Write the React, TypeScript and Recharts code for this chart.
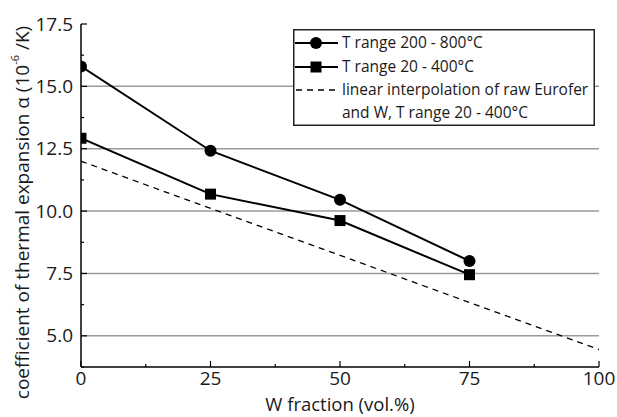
import React from "react";
import { LineChart, Line, XAxis, YAxis, ReferenceLine, Legend } from "recharts";

const X_TICKS = [0, 12.5, 25, 37.5, 50, 62.5, 75, 87.5, 100];
const X_MAJOR = [0, 25, 50, 75, 100];
const Y_TICKS = [3.75, 5, 6.25, 7.5, 8.75, 10, 11.25, 12.5, 13.75, 15, 16.25, 17.5];
const Y_MAJOR = [5, 7.5, 10, 12.5, 15, 17.5];
const GRID_Y = [5, 7.5, 10, 12.5, 15];

const W_FRACTION = [0, 25, 50, 75];
const HIGH_T = [15.8, 12.42, 10.45, 8.0];
const LOW_T = [12.92, 10.68, 9.62, 7.45];
const INTERP_X = [0, 100];
const INTERP_Y = [12.0, 4.45];

const SERIES_NAMES = [
  "T range 200 - 800°C",
  "T range 20 - 400°C",
  "linear interpolation of raw Eurofer",
  "and W, T range 20 - 400°C",
];

const highData = W_FRACTION.map((x, i) => ({ x, y: HIGH_T[i] }));
const lowData = W_FRACTION.map((x, i) => ({ x, y: LOW_T[i] }));
const interpData = INTERP_X.map((x, i) => ({ x, y: INTERP_Y[i] }));

const FONT = "'Open Sans', sans-serif";
const TEXT_COLOR = "#1a1a1a";
const TICK_FS = 19;

const BottomTick = (props: any) => {
  const { x, y, payload } = props;
  const major = X_MAJOR.includes(payload.value);
  return (
    <g>
      <line x1={x} x2={x} y1={y} y2={y - (major ? 6 : 3)} stroke="#000" strokeWidth={1.2} />
      {major && (
        <text x={x} y={y + 3} dy="0.8em" textAnchor="middle" fontFamily={FONT} fontSize={TICK_FS} fill={TEXT_COLOR}>
          {payload.value}
        </text>
      )}
    </g>
  );
};

const TopTick = (props: any) => {
  const { x, y, payload } = props;
  const major = X_MAJOR.includes(payload.value);
  return <line x1={x} x2={x} y1={y} y2={y + (major ? 6 : 3)} stroke="#000" strokeWidth={1.2} />;
};

const LeftTick = (props: any) => {
  const { x, y, payload } = props;
  const major = Y_MAJOR.includes(payload.value);
  return (
    <g>
      <line x1={x} x2={x + (major ? 6 : 3)} y1={y} y2={y} stroke="#000" strokeWidth={1.2} />
      {major && (
        <text x={x - 8} y={y} dy="0.35em" textAnchor="end" fontFamily={FONT} fontSize={TICK_FS} fill={TEXT_COLOR}>
          {payload.value.toFixed(1)}
        </text>
      )}
    </g>
  );
};

const RightTick = (props: any) => {
  const { x, y, payload } = props;
  const major = Y_MAJOR.includes(payload.value);
  return <line x1={x} x2={x - (major ? 6 : 3)} y1={y} y2={y} stroke="#000" strokeWidth={1.2} />;
};

const Circle = (props: any) => {
  const { cx, cy } = props;
  if (cx == null || cy == null) return null;
  return <circle cx={cx} cy={cy} r={6} fill="#000" />;
};

const Square = (props: any) => {
  const { cx, cy } = props;
  if (cx == null || cy == null) return null;
  return <rect x={cx - 5.5} y={cy - 5.5} width={11} height={11} fill="#000" />;
};

const YLabel = (props: any) => {
  const { viewBox } = props;
  const cx = 22;
  const cy = viewBox.y + viewBox.height / 2 + 17;
  return (
    <text
      x={cx}
      y={cy}
      transform={`rotate(-90 ${cx} ${cy})`}
      textAnchor="middle"
      dominantBaseline="central"
      fontFamily={FONT}
      fontSize={19}
      fill={TEXT_COLOR}
    >
      coefficient of thermal expansion α (10
      <tspan dy={-8} fontSize={11}>-6</tspan>
      <tspan dy={8}> /K)</tspan>
    </text>
  );
};

const XLabel = (props: any) => {
  const { viewBox } = props;
  return (
    <text
      x={viewBox.x + viewBox.width / 2}
      y={viewBox.y + 36}
      textAnchor="middle"
      dominantBaseline="central"
      fontFamily={FONT}
      fontSize={18.5}
      fill={TEXT_COLOR}
    >
      W fraction (vol.%)
    </text>
  );
};

const LegendBox = () => {
  const rows = [14, 38, 61, 84];
  return (
    <svg width={302} height={97} style={{ display: "block" }}>
      <rect x={0.75} y={0.75} width={300.5} height={95.5} fill="#fff" stroke="#222" strokeWidth={1.5} />
      <line x1={2} x2={45} y1={rows[0]} y2={rows[0]} stroke="#000" strokeWidth={2} />
      <circle cx={23} cy={rows[0]} r={6} fill="#000" />
      <line x1={2} x2={45} y1={rows[1]} y2={rows[1]} stroke="#000" strokeWidth={2} />
      <rect x={17.5} y={rows[1] - 5.5} width={11} height={11} fill="#000" />
      <line x1={3} x2={45} y1={rows[2]} y2={rows[2]} stroke="#000" strokeWidth={1.3} strokeDasharray="6 5" />
      {SERIES_NAMES.map((name, i) => (
        <text key={i} x={49} y={rows[i]} dy="0.35em" fontFamily={FONT} fontSize={15.5} fill={TEXT_COLOR}>
          {name}
        </text>
      ))}
    </svg>
  );
};

export default function App() {
  return (
    <div style={{ position: "absolute", left: 0, top: 0, background: "#fff" }}>
      <LineChart width={617} height={417} margin={{ top: 24, right: 18, bottom: 0, left: 21 }}>
        <XAxis
          type="number"
          dataKey="x"
          domain={[0, 100]}
          ticks={X_TICKS}
          interval={0}
          tickSize={0}
          tickMargin={0}
          tickLine={false}
          tick={<BottomTick />}
          axisLine={{ stroke: "#000", strokeWidth: 1.5 }}
          height={50}
          allowDataOverflow
          label={<XLabel />}
        />
        <XAxis
          xAxisId="top"
          orientation="top"
          type="number"
          dataKey="x"
          domain={[0, 100]}
          ticks={X_TICKS}
          interval={0}
          tickSize={0}
          tickMargin={0}
          tickLine={false}
          tick={<TopTick />}
          axisLine={{ stroke: "#000", strokeWidth: 1.5 }}
          height={0}
          allowDataOverflow
        />
        <YAxis
          type="number"
          dataKey="y"
          domain={[3.75, 17.5]}
          ticks={Y_TICKS}
          interval={0}
          tickSize={0}
          tickMargin={0}
          tickLine={false}
          tick={<LeftTick />}
          axisLine={{ stroke: "#000", strokeWidth: 1.5 }}
          width={60}
          allowDataOverflow
          label={<YLabel />}
        />
        <YAxis
          yAxisId="right"
          orientation="right"
          type="number"
          dataKey="y"
          domain={[3.75, 17.5]}
          ticks={Y_TICKS}
          interval={0}
          tickSize={0}
          tickMargin={0}
          tickLine={false}
          tick={<RightTick />}
          axisLine={{ stroke: "#000", strokeWidth: 1.5 }}
          width={0}
          allowDataOverflow
        />
        {GRID_Y.map((v) => (
          <ReferenceLine key={v} y={v} stroke="#9a9a9a" strokeWidth={1.5} />
        ))}
        <Line
          data={interpData}
          dataKey="y"
          stroke="#000"
          strokeWidth={1.3}
          strokeDasharray="6 5"
          dot={false}
          isAnimationActive={false}
          name={SERIES_NAMES[2]}
        />
        <Line
          data={lowData}
          dataKey="y"
          stroke="#000"
          strokeWidth={2}
          dot={<Square />}
          isAnimationActive={false}
          name={SERIES_NAMES[1]}
        />
        <Line
          data={highData}
          dataKey="y"
          stroke="#000"
          strokeWidth={2}
          dot={<Circle />}
          isAnimationActive={false}
          name={SERIES_NAMES[0]}
        />
        <Legend
          layout="vertical"
          align="center"
          verticalAlign="middle"
          content={<LegendBox />}
          wrapperStyle={{ position: "absolute", left: 293, top: 29, width: 302, height: 97 }}
        />
      </LineChart>
    </div>
  );
}
